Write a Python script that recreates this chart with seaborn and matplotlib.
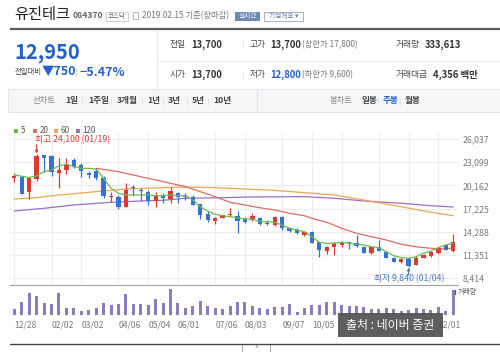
import numpy as np
import pandas as pd
import matplotlib
matplotlib.use("Agg")
import matplotlib.pyplot as plt
import seaborn as sns
from matplotlib.patches import Rectangle

# ---------------- data (weekly candles, 12/28/2017 .. 02/15/2019) ----------------
week_idx = list(range(60))
opens = [21094, 21180, 19300, 21000, 24000, 23920, 21690, 22110, 23380, 22740,
         21770, 21980, 21140, 18650, 18730, 17470, 20000, 19570, 19360, 18180,
         18940, 18430, 19230, 18810, 18730, 17750, 16500, 15680, 16020, 16440,
         16270, 15900, 15770, 15980, 15390, 15090, 16100, 14800, 14500, 13910,
         14290, 12950, 11780, 12360, 12620, 12950, 12820, 12400, 11570, 12400,
         11740, 10980, 10480, 10820, 10100, 10990, 11240, 11570, 12610, 11900]
highs = [21728, 21400, 21100, 24100, 24050, 24000, 23670, 23590, 23590, 23000,
         21980, 22400, 21400, 19360, 18900, 20420, 20210, 19780, 19570, 19360,
         19150, 20000, 19360, 19180, 18900, 17750, 16950, 16100, 16520, 17280,
         16950, 16100, 16690, 16100, 15800, 16230, 16230, 14900, 14720, 14380,
         14380, 13030, 12530, 12950, 13110, 13030, 13910, 12530, 12450, 13280,
         11860, 11110, 10990, 11020, 11230, 11490, 11780, 12400, 12700, 13950]
lows = [20587, 19060, 18440, 20700, 21900, 21380, 19830, 21560, 22400, 21260,
        21050, 20880, 18600, 18010, 17160, 17470, 18850, 18200, 17700, 17450,
        17890, 17890, 17890, 18300, 17700, 15930, 15500, 15260, 15980, 16270,
        14080, 15430, 15640, 15090, 15090, 14960, 14460, 14290, 13950, 13780,
        12820, 11110, 11460, 11330, 12400, 12060, 12400, 11570, 11500, 11780,
        10900, 10400, 10310, 9840, 10100, 10900, 11110, 11450, 11990, 11650]
closes = [21348, 19060, 21050, 23900, 23600, 21900, 22110, 22830, 22530, 22020,
          21480, 21050, 18860, 18800, 17470, 19570, 19820, 19440, 18180, 18940,
          18520, 19440, 18730, 18730, 17700, 16440, 15800, 16020, 16440, 16500,
          15680, 15550, 16310, 15260, 15260, 16100, 14750, 14380, 14080, 14290,
          12820, 11990, 12400, 12820, 13030, 12820, 12530, 11570, 12400, 11860,
          10980, 10480, 10820, 9990, 10900, 11320, 11660, 12280, 11990, 12950]
volumes = [480, 1064, 1736, 1520, 936, 856, 1736, 536, 584, 320,
           400, 536, 936, 800, 880, 1656, 856, 856, 800, 1280,
           984, 2056, 984, 536, 744, 1144, 720, 584, 480, 744,
           1064, 1064, 720, 536, 480, 616, 616, 856, 264, 536,
           800, 800, 1064, 1064, 800, 744, 720, 616, 456, 456,
           536, 456, 344, 400, 536, 456, 400, 616, 320, 2000]

ma5 = [21475, 21310, 21160, 21350, 21890, 22110, 22650, 22830, 22530, 22320,
       22320, 22230, 21060, 19790, 19160, 18940, 18940, 18940, 18940, 18850,
       18850, 18940, 18850, 18850, 18300, 17450, 16900, 16490, 16310, 16190,
       16060, 15900, 15900, 15550, 15550, 15480, 15130, 14720, 14500, 14290,
       13650, 12940, 12810, 12810, 12940, 12810, 12690, 12600, 12380, 12260,
       11750, 11240, 10990, 10910, 11110, 11550, 11840, 12260, 12600, 12810]
ma20_idx = [11, 14, 18, 21, 23, 25, 27, 29, 31, 33, 35, 37, 39, 40, 42, 44, 46, 48, 50, 52, 54, 56, 58, 59]
ma20_val = [22320, 21890, 21050, 20420, 20000, 19360, 18720, 18010, 17670, 17320, 17040, 16620,
            16310, 15980, 15480, 14720, 14080, 13650, 13230, 12690, 12380, 12180, 12090, 12260]
ma60_idx = [0, 3, 6, 11, 15, 20, 22, 27, 31, 35, 39, 43, 47, 52, 56, 59]
ma60_val = [18430, 18600, 18940, 19360, 19700, 19870, 19950, 19870, 19700, 19530, 19230, 18940,
            18300, 17450, 16750, 16310]
ma120_idx = [0, 4, 8, 13, 17, 20, 23, 28, 32, 39, 43, 47, 52, 56, 59]
ma120_val = [16910, 17250, 17670, 18010, 18180, 18270, 18520, 18600, 18690, 18730, 18520, 18180,
             17890, 17580, 17420]

date_tick_idx = [0, 5, 9, 14, 18, 22, 27, 31, 36, 40, 44, 49, 53, 57]
# labels of 11/02, 12/07 and 01/04 are hidden under the watermark in the reference
date_tick_labels = ['12/28', '02/02', '03/02', '04/06', '05/04', '06/01', '07/06',
                    '08/03', '09/07', '10/05', '', '', '', '02/01']
price_ticks = [8414, 11351, 14288, 17225, 20162, 23099, 26037]
high_date = '01/19'
low_date = '01/04'

# ---------------- style ----------------
sns.set_style('white')
plt.rcParams['font.family'] = ['Noto Sans CJK KR', 'DejaVu Sans']

RED = '#d93a36'
BLUE = '#3570d2'
C5, C20, C60, C120 = '#6cbb4f', '#e06a66', '#f0a54c', '#9a6fca'
VOLC = '#8c7bbd'
TXT = '#333333'
PBLUE = '#2461c8'

W, H = 500, 352
fig = plt.figure(figsize=(W / 100, H / 100), dpi=100)
fig.patch.set_facecolor('white')


def rect(l, t, r, b):
    return [l / W, 1 - b / H, (r - l) / W, (b - t) / H]


bg = fig.add_axes([0, 0, 1, 1], zorder=0)
bg.set_xlim(0, W)
bg.set_ylim(H, 0)
bg.axis('off')


def T(x, y, s, size=6.3, color=TXT, weight='normal', ha='left', ax=bg, **kw):
    ax.text(x, y, s, fontsize=size, color=color, weight=weight, ha=ha, va='center', **kw)


# ---------------- header ----------------
T(14, 14.5, '유진테크', size=11, color='#222222')
T(73, 16, '084370', size=6.3, color='#666666', weight='bold')
bg.add_patch(Rectangle((106, 11.5), 22, 9, fill=False, ec='#c8c8c8', lw=0.6))
T(117, 16, '코스닥', size=4.6, color='#666666', ha='center')
bg.add_patch(Rectangle((133, 12), 5, 7, fill=False, ec='#aaaaaa', lw=0.6))
T(142, 16, '2019.02.15 기준(장마감)', size=6.0, color='#777777')
bg.add_patch(Rectangle((235, 11.5), 25, 9.5, fc='#7088b8', ec='none'))
T(247.5, 16.2, '실시간', size=4.8, color='white', ha='center')
bg.add_patch(Rectangle((264, 11.5), 39, 9.5, fill=False, ec='#9aa6c0', lw=0.6))
T(283.5, 16.2, '기업개요 ▾', size=4.8, color='#6878a0', ha='center')

bg.plot([10, 500], [29.2, 29.2], color='#5a5a5a', lw=1.6, solid_capstyle='butt')

T(14, 52.5, '12,950', size=14.5, color=PBLUE, weight='bold')
T(15, 72, '전일대비', size=5.3, color='#444444')
T(42, 72, '▼750', size=9, color=PBLUE, weight='bold')
bg.plot([76, 76], [68, 76], color='#d0d0d0', lw=0.6)
T(80, 72, '−5.47%', size=9, color=PBLUE, weight='bold')

bg.plot([157, 157], [30, 88], color='#e6e6e6', lw=0.8)
bg.plot([157, 500], [60.5, 60.5], color='#efefef', lw=0.7)

rows = [(44.7, [('전일', 170), ('고가', 250), ('거래량', 396)]),
        (74.7, [('시가', 170), ('저가', 250), ('거래대금', 396)])]
for y, items in rows:
    for s, x in items:
        T(x, y, s, size=6.3, color='#444444')
    bg.plot([243, 243], [y - 3.5, y + 3.5], color='#dddddd', lw=0.6)
T(191, 44.7, '13,700', size=6.8, weight='bold')
T(270, 44.7, '13,700', size=6.8, weight='bold')
T(301.5, 44.7, '(상한가 17,800)', size=6.0, color='#777777')
T(425, 44.7, '333,613', size=6.8, weight='bold')
T(191, 74.7, '13,700', size=6.8, weight='bold')
T(270, 74.7, '12,800', size=6.8, weight='bold', color=PBLUE)
T(301.5, 74.7, '(하한가 9,600)', size=6.0, color='#777777')
T(433, 74.7, '4,356 백만', size=6.8, weight='bold')

# ---------------- tab bar ----------------
bg.add_patch(Rectangle((8, 89), 492, 23, fc='#f4f6f8', ec='#e1e4e8', lw=0.7))
T(33, 101, '선차트', size=6.0, color='#888888')
tabs = [('1일', 65), ('1주일', 88), ('3개월', 117), ('1년', 147), ('3년', 168), ('5년', 192), ('10년', 213)]
for s, x in tabs:
    T(x, 101, s, size=6.2, color='#444444', weight='bold')
for x in [82, 111, 142, 163, 187, 208]:
    bg.plot([x, x], [97.5, 104.5], color='#dddddd', lw=0.6)
bg.plot([257, 257], [89, 112], color='#dde0e4', lw=0.7)
T(330, 101, '봉차트', size=6.0, color='#888888')
T(362, 101, '일봉', size=6.2, color='#444444', weight='bold')
T(383, 101, '주봉', size=6.2, color=PBLUE, weight='bold')
T(405, 101, '월봉', size=6.2, color='#444444', weight='bold')
for x in [378, 400]:
    bg.plot([x, x], [97.5, 104.5], color='#dddddd', lw=0.6)

# ---------------- legend ----------------
for (x, c, lab) in [(14, C5, '5'), (33, C20, '20'), (54, C60, '60'), (76, C120, '120')]:
    bg.add_patch(Rectangle((x, 128.5), 4, 4, fc=c, ec='none'))
    T(x + 6.5, 130.7, lab, size=5.8, color='#555555')

# ---------------- price panel ----------------
xl = ((10 - 14.3) / 7.44, (458 - 14.3) / 7.44)
ax = fig.add_axes(rect(10, 133, 458, 284), zorder=2)
ax.set_facecolor('none')
ax.set_xlim(*xl)
ax.set_ylim(7653, 26800)
ax.set_xticks(date_tick_idx)
ax.set_xticklabels([])
ax.set_yticks(price_ticks)
ax.set_yticklabels([f'{v:,}' for v in price_ticks])
ax.yaxis.tick_right()
ax.tick_params(axis='y', length=0, pad=3, labelsize=6.3, labelcolor='#7a7a7a')
ax.tick_params(axis='x', length=0)
ax.grid(True, color='#ececec', lw=0.8)
ax.set_axisbelow(True)
for s in ax.spines.values():
    s.set_visible(False)

df = pd.DataFrame({'idx': week_idx, 'open': opens, 'high': highs, 'low': lows, 'close': closes})
up = df['close'] >= df['open']
cols = np.where(up, RED, BLUE)
ax.vlines(df['idx'], df['low'], df['high'], colors=cols, lw=0.9, zorder=3)
bottom = np.minimum(df['open'], df['close'])
height = np.maximum(np.abs(df['close'] - df['open']), 70)
ax.bar(df['idx'], height, bottom=bottom, width=0.58, color=cols, lw=0, zorder=4)

sns.lineplot(x=ma120_idx, y=ma120_val, ax=ax, color=C120, lw=0.9, zorder=2)
sns.lineplot(x=ma60_idx, y=ma60_val, ax=ax, color=C60, lw=0.9, zorder=2)
sns.lineplot(x=ma20_idx, y=ma20_val, ax=ax, color=C20, lw=0.9, zorder=2)
sns.lineplot(x=week_idx, y=ma5, ax=ax, color=C5, lw=0.9, zorder=5)
ax.set_xlabel('')
ax.set_ylabel('')
ax.set_xlim(*xl)
ax.set_ylim(7653, 26800)

imax = int(np.argmax(highs))
imin = int(np.argmin(lows))
ax.annotate('', xy=(imax, highs[imax]), xytext=(0, 7), textcoords='offset points',
            arrowprops=dict(arrowstyle='-|>', color=RED, lw=0.8, mutation_scale=4, shrinkA=0, shrinkB=0.5))
ax.annotate(f'최고 {highs[imax]:,} ({high_date})', xy=(imax, highs[imax]), xytext=(-1.2, 10.5),
            textcoords='offset points', ha='left', va='center', fontsize=6.3, color=RED)
ax.annotate('', xy=(imin, lows[imin]), xytext=(0, -6), textcoords='offset points',
            arrowprops=dict(arrowstyle='-|>', color='#4a7ab8', lw=0.8, mutation_scale=4, shrinkA=0, shrinkB=0.5))
ax.annotate(f'최저 {lows[imin]:,} ({low_date})', xy=(imin, lows[imin]), xytext=(0.5, -8.8),
            textcoords='offset points', ha='center', va='center', fontsize=6.3, color='#4a7ab8')

bg.plot([10, 458], [284.5, 284.5], color='#a0a0a0', lw=0.8)

# ---------------- volume panel ----------------
vax = fig.add_axes(rect(10, 285, 458, 315), zorder=2)
vax.set_facecolor('none')
sns.barplot(x=week_idx, y=volumes, native_scale=True, width=0.4, color=VOLC,
            saturation=1, linewidth=0, ax=vax)
vax.set_xlim(*xl)
vax.set_ylim(0, 2400)
vax.set_xticks(date_tick_idx)
vax.set_xticklabels(date_tick_labels, ha='left')
vax.set_yticks([])
vax.set_xlabel('')
vax.set_ylabel('')
vax.tick_params(axis='x', length=2.5, width=0.6, color='#aaaaaa', pad=1.5,
                labelsize=6.2, labelcolor='#7a7a7a', direction='out')
for s in vax.spines.values():
    s.set_visible(False)

bg.add_patch(Rectangle((454, 289.5), 2, 5, fc='#555555', ec='none'))
T(458, 292.2, '거래량', size=5.0, color='#555555')

# bottom bar
bg.plot([10, 500], [343.5, 343.5], color='#444444', lw=1.0)
bg.add_patch(Rectangle((242, 344), 28, 8, fc='white', ec='#999999', lw=0.6))
T(256, 348.5, '^', size=5, color='#777777', ha='center')

# ---------------- watermark ----------------
top = fig.add_axes([0, 0, 1, 1], zorder=10)
top.set_xlim(0, W)
top.set_ylim(H, 0)
top.axis('off')
top.add_patch(Rectangle((338, 313), 105, 24, fc='#505050', ec='none', alpha=0.92))
T(390.5, 325, '출처 : 네이버 증권', size=8.6, color='white', ha='center', ax=top)

fig.savefig('out.png', dpi=100, facecolor='white')
